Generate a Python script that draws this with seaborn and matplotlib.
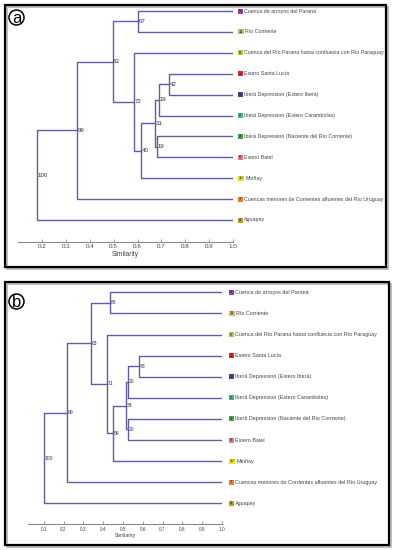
import matplotlib
matplotlib.use("Agg")
import matplotlib.pyplot as plt
import seaborn as sns
import pandas as pd
from matplotlib.patches import Rectangle, Circle

sns.set_style("white")
plt.rcParams['font.family'] = ['Liberation Sans', 'DejaVu Sans']

# ---------------- data ----------------
leaf_names = [
    "Cuenca de arroyos del Paraná",
    "Río Corriente",
    "Cuenca del Río Parana hasta confluecia con Río Paraguay",
    "Estero Santa Lucía",
    "Iberá Depression (Estero Iberá)",
    "Iberá Depression (Estero Carambolas)",
    "Iberá Depression (Naciente del Río Corriente)",
    "Estero Batel",
    "Miriñay",
    "Cuencas menores de Corrientes afluentes del Río Uruguay",
    "Aguapey",
]
leaf_codes = ["5", "11", "6", "1", "9", "2", "3", "8", "10", "7", "4"]
leaf_colors = ["#9b3f9b", "#c9b66e", "#a8c83e", "#d42b2b", "#5b3b8d", "#4db38e",
               "#40a34f", "#e07a7a", "#e6e21e", "#f07a28", "#b9a11f"]

# merges: children indices (leaves 0-10, internal nodes 11+)
merges = [(0, 1), (3, 4), (12, 5), (6, 7), (13, 14), (15, 8), (2, 16), (11, 17), (18, 9), (19, 10)]

heights_a = [0.602, 0.733, 0.690, 0.681, 0.673, 0.615, 0.587, 0.496, 0.349, 0.182]
support_a = [67, 42, 19, 19, 31, 40, 72, 63, 99, 100]
ticks_a = [0.2, 0.3, 0.4, 0.5, 0.6, 0.7, 0.8, 0.9, 1.0]

heights_b = [0.435, 0.583, 0.525, 0.526, 0.516, 0.452, 0.421, 0.339, 0.219, 0.103]
support_b = [86, 43, 20, 20, 34, 58, 71, 63, 99, 100]
ticks_b = [0.1, 0.2, 0.3, 0.4, 0.5, 0.6, 0.7, 0.8, 0.9, 1.0]

LINE = "#5c5cab"
W, H = 394, 550

fig = plt.figure(figsize=(W / 100, H / 100), dpi=100)
fig.patch.set_facecolor("white")


def px_axes(left, top, right, bottom):
    return fig.add_axes([left / W, 1 - bottom / H, (right - left) / W, (bottom - top) / H])


def build_segments(heights):
    n = len(leaf_names)
    pos = {i: (1.0, float(i)) for i in range(n)}
    rows = []
    nodes = []
    for k, ((a, b), h) in enumerate(zip(merges, heights)):
        xa, ya = pos[a]
        xb, yb = pos[b]
        pts = [(xa, ya), (h, ya), (h, yb), (xb, yb)]
        for x, y in pts:
            rows.append({"x": x, "y": y, "seg": k})
        ym = (ya + yb) / 2
        pos[n + k] = (h, ym)
        nodes.append((h, ym))
    return pd.DataFrame(rows), nodes


def draw_panel(ax, box, heights, support, ticks, xlim, ylim, node_fs, leaf_fs, tick_fs,
               sq_off, txt_gap):
    left, top, right, bottom = box
    xpp = (xlim[1] - xlim[0]) / (right - left)      # data x per pixel
    ypp = (ylim[0] - ylim[1]) / (bottom - top)      # data y per pixel
    df, nodes = build_segments(heights)
    sns.lineplot(data=df, x="x", y="y", units="seg", estimator=None, sort=False,
                 color=LINE, linewidth=1.0, ax=ax)
    ax.set_xlim(*xlim)
    ax.set_ylim(*ylim)
    for (h, ym), s in zip(nodes, support):
        ax.annotate(str(s), (h, ym), xytext=(0.3, 0), textcoords="offset points",
                    fontsize=node_fs, color="#333333", ha="left", va="center")
    for i, (name, code, col) in enumerate(zip(leaf_names, leaf_codes, leaf_colors)):
        sw = 6.5 if len(code) > 1 else 5.0
        sh = 5.0
        x0 = 1.0 + sq_off * xpp
        ax.add_patch(Rectangle((x0, i - sh / 2 * ypp), sw * xpp, sh * ypp,
                               fc=col, ec="none", clip_on=False))
        ax.text(x0 + sw / 2 * xpp, i, code, fontsize=3.0, color="#222222",
                ha="center", va="center", clip_on=False)
        ax.text(x0 + (sw + txt_gap) * xpp, i, name, fontsize=leaf_fs, color="#444444",
                ha="left", va="center", clip_on=False)
    for sp in ["top", "right", "left"]:
        ax.spines[sp].set_visible(False)
    ax.spines["bottom"].set_color("#8a8a8a")
    ax.spines["bottom"].set_linewidth(0.8)
    ax.set_yticks([])
    ax.set_xticks(ticks)
    ax.set_xticklabels([f"{t:.1f}" for t in ticks])
    ax.tick_params(axis="x", direction="in", length=2, width=0.6, color="#8a8a8a",
                   labelsize=tick_fs, labelcolor="#444444", pad=2, bottom=True)
    ax.set_xlabel("Similarity", fontsize=tick_fs + 0.3, color="#444444", labelpad=1)
    ax.set_ylabel("")
    ax.patch.set_alpha(0)


# panel a
box_a = (17.8, 1, 233.3, 241.7)
ax_a = px_axes(*box_a)
draw_panel(ax_a, box_a, heights_a, support_a, ticks_a, (0.1, 1.0),
           ((241.7 - 11) / 20.9, (1 - 11) / 20.9),
           node_fs=4.4, leaf_fs=3.75, tick_fs=4.5, sq_off=4.3, txt_gap=1.2)

# panel b
box_b = (28, 283, 222, 524.3)
ax_b = px_axes(*box_b)
draw_panel(ax_b, box_b, heights_b, support_b, ticks_b, (0.0207, 1.0),
           ((524.3 - 292.3) / 21.1, (283 - 292.3) / 21.1),
           node_fs=3.6, leaf_fs=3.85, tick_fs=3.4, sq_off=6.5, txt_gap=1.2)

# frames
for (l, t, r, b) in [(5, 5, 386, 267), (5, 282, 389, 545)]:
    fig.patches.append(Rectangle((l + 1.5, H - b - 1.5), r - l, b - t, transform=None,
                                 fill=False, ec="#b0b0b0", lw=1.2, zorder=0))
    fig.patches.append(Rectangle((l, H - b), r - l, b - t, transform=None,
                                 fill=False, ec="black", lw=1.6, zorder=1))

# panel letters
for (cx, cy, letter) in [(16.5, 17.5, "a"), (16.5, 301.5, "b")]:
    fig.patches.append(Circle((cx, H - cy), 7.5, transform=None, fill=False,
                              ec="black", lw=1.1))
    fig.text(cx / W, 1 - (cy + 0.8) / H, letter, fontsize=12, ha="center", va="center",
             color="black")

fig.savefig("out.png", dpi=100)
